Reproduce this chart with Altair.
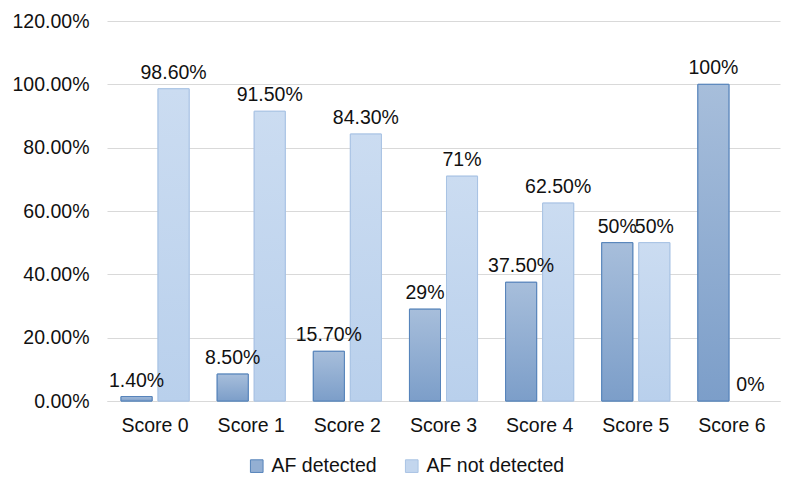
import altair as alt
import pandas as pd

categories = ["Score 0", "Score 1", "Score 2", "Score 3", "Score 4", "Score 5", "Score 6"]
series_names = ["AF detected", "AF not detected"]
detected = [0.014, 0.085, 0.157, 0.29, 0.375, 0.50, 1.00]
not_detected = [0.986, 0.915, 0.843, 0.71, 0.625, 0.50, 0.0]
detected_labels = ["1.40%", "8.50%", "15.70%", "29%", "37.50%", "50%", "100%"]
not_detected_labels = ["98.60%", "91.50%", "84.30%", "71%", "62.50%", "50%", "0%"]

rows = []
for c, v, l in zip(categories, detected, detected_labels):
    rows.append({"cat": c, "series": series_names[0], "value": v, "label": l})
for c, v, l in zip(categories, not_detected, not_detected_labels):
    rows.append({"cat": c, "series": series_names[1], "value": v, "label": l})
df = pd.DataFrame(rows)

FONT = "Liberation Sans"
FS = 19.5
fills = ["#93afd3", "#c3d6ee"]
strokes = ["#5583ba", "#a9c3e4"]

x = alt.X("cat:N", sort=categories,
          scale=alt.Scale(paddingInner=0.292, paddingOuter=0.146),
          axis=alt.Axis(title=None, labelAngle=0, labelFontSize=FS, labelColor="#111",
                        labelFont=FONT, ticks=False, domainColor="#d9d9d9",
                        labelPadding=15, grid=False))
xo = alt.XOffset("series:N", sort=series_names,
                 scale=alt.Scale(paddingInner=0.162, paddingOuter=0))
y = alt.Y("value:Q", scale=alt.Scale(domain=[0, 1.2]),
          axis=alt.Axis(title=None, format=".2%", values=[0, 0.2, 0.4, 0.6, 0.8, 1.0, 1.2],
                        labelFontSize=FS, labelColor="#111", labelFont=FONT,
                        ticks=False, domain=False, gridColor="#d9d9d9", labelPadding=18))

base = alt.Chart(df)
nonzero = base.transform_filter(alt.datum.value > 0)

legend = alt.Legend(title=None, orient="none", direction="horizontal",
                    legendX=140, legendY=435, labelFontSize=FS, labelFont=FONT,
                    labelColor="#111", symbolType="square", symbolSize=160,
                    columnPadding=25, labelOffset=5, symbolStrokeWidth=1)

bars = nonzero.mark_bar(strokeWidth=1).encode(
    x=x, xOffset=xo, y=y,
    fill=alt.Fill("series:N", sort=series_names,
                  scale=alt.Scale(domain=series_names, range=fills), legend=legend),
    stroke=alt.Stroke("series:N", sort=series_names,
                      scale=alt.Scale(domain=series_names, range=strokes), legend=legend),
)

grad1 = nonzero.transform_filter(alt.datum.series == series_names[0]).mark_bar(
    stroke=strokes[0], strokeWidth=1,
    fill=alt.Gradient(gradient="linear", x1=0, x2=0, y1=0, y2=1,
                      stops=[alt.GradientStop(color="#a7bedb", offset=0),
                             alt.GradientStop(color="#7c9ec9", offset=1)])
).encode(x=x, xOffset=xo, y=y)

grad2 = nonzero.transform_filter(alt.datum.series == series_names[1]).mark_bar(
    stroke=strokes[1], strokeWidth=1,
    fill=alt.Gradient(gradient="linear", x1=0, x2=0, y1=0, y2=1,
                      stops=[alt.GradientStop(color="#cbdcf1", offset=0),
                             alt.GradientStop(color="#b9d0ec", offset=1)])
).encode(x=x, xOffset=xo, y=y)

labels = base.mark_text(baseline="bottom", dy=-6, fontSize=FS, font=FONT,
                        color="#111").encode(x=x, xOffset=xo, y=y, text="label:N")

chart = alt.layer(bars, grad1, grad2, labels).properties(
    width=673, height=380,
    padding={"left": 99, "top": 13, "right": 12, "bottom": 85},
    autosize="none",
    background="white",
).configure_view(stroke=None)

chart.save("out.html", embed_options={"renderer": "svg", "actions": False})
